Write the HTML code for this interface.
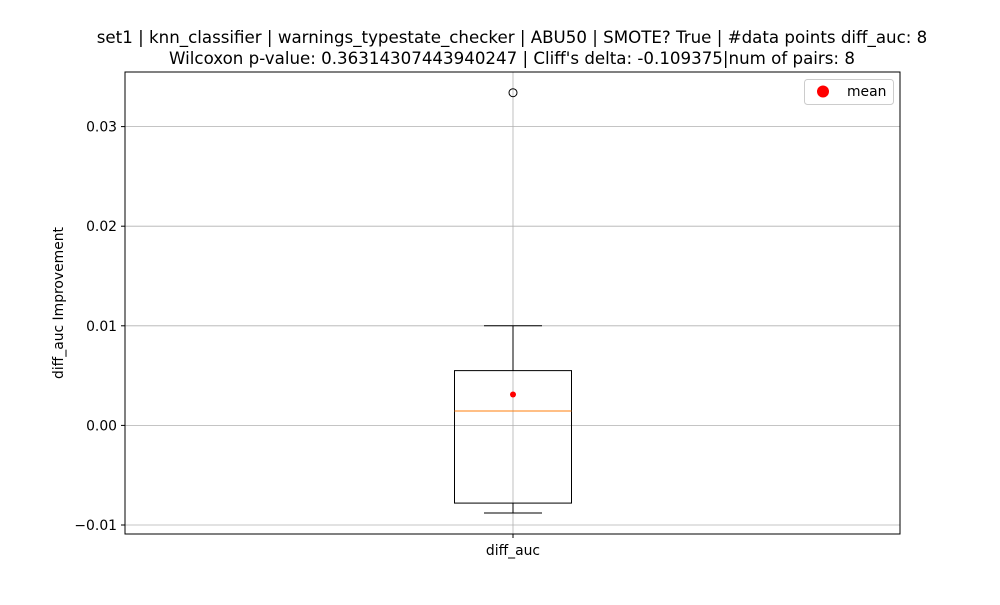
<!DOCTYPE html>
<html><head><meta charset="utf-8"><style>body{margin:0;background:#fff}svg{font-family:"DejaVu Sans","Liberation Sans",sans-serif}</style></head>
<body>
<svg id="chart" width="1000" height="600">
<rect width="1000" height="600" fill="#fff"/>
<text x="512" y="43" text-anchor="middle" font-size="16.67">set1 | knn_classifier | warnings_typestate_checker | ABU50 | SMOTE? True | #data points diff_auc: 8</text>
<text x="512" y="64" text-anchor="middle" font-size="16.67">Wilcoxon p-value: 0.36314307443940247 | Cliff's delta: -0.109375|num of pairs: 8</text>
<g id="grid"></g>
<g id="marks"></g>
<rect x="125" y="72" width="775" height="462" fill="none" stroke="#000" stroke-width="1"/>
<text transform="translate(63,303) rotate(-90)" text-anchor="middle" font-size="13.9">diff_auc Improvement</text>
<g>
<rect x="804.5" y="79.5" width="89" height="25" rx="3" fill="#fff" stroke="#ccc"/>
<circle cx="823" cy="91.5" r="6" fill="red"/>
<text x="847" y="96" font-size="13.9">mean</text>
</g>
</svg>
<script>
const categories=["diff_auc"];
const q1=[-0.0078], q3=[0.0055], median=[0.00145], whiskerLow=[-0.0088], whiskerHigh=[0.01];
const outliers=[[0.0334]];
const means=[0.0031];
const yTicks=[-0.01,0,0.01,0.02,0.03];
const yTickLabels=["−0.01","0.00","0.01","0.02","0.03"];
const NS="http://www.w3.org/2000/svg";
const y0=425.4, ppu=9960;
function y(v){return y0-v*ppu;}
function x(i){return 513;}
function mk(t,a,p){const e=document.createElementNS(NS,t);for(const k in a)e.setAttribute(k,a[k]);p.appendChild(e);return e;}
const grid=document.getElementById('grid'), marks=document.getElementById('marks'), svg=document.getElementById('chart');
yTicks.forEach((t,i)=>{
 const l=mk('line',{x1:125,x2:900,y1:y(t),y2:y(t),stroke:'#b0b0b0','stroke-width':0.8},grid);
 
 
 mk('line',{x1:121,x2:125,y1:y(t),y2:y(t),stroke:'#000'},svg);
 const tx=mk('text',{x:117,y:y(t)+5,'text-anchor':'end','font-size':13.9},svg);tx.textContent=yTickLabels[i];
 
 
});
categories.forEach((c,i)=>{
 const cx=x(i);
 const g=mk('line',{x1:cx,x2:cx,y1:72,y2:534,stroke:'#b0b0b0','stroke-width':0.8},grid);
 
 
 mk('line',{x1:cx,x2:cx,y1:534,y2:538,stroke:'#000'},svg);
 const tl=mk('text',{x:cx,y:555,'text-anchor':'middle','font-size':13.9},svg);tl.textContent=c;
 
 
 const b=mk('rect',{x:cx-58.5,y:y(q3[i]),width:117,height:y(q1[i])-y(q3[i]),fill:'none',stroke:'#000'},marks);
 
 
 mk('line',{x1:cx,x2:cx,y1:y(q3[i]),y2:y(whiskerHigh[i]),stroke:'#000'},marks);
 mk('line',{x1:cx,x2:cx,y1:y(q1[i]),y2:y(whiskerLow[i]),stroke:'#000'},marks);
 const c1=mk('line',{x1:cx-29,x2:cx+29,y1:y(whiskerHigh[i]),y2:y(whiskerHigh[i]),stroke:'#000'},marks);
 
 
 const c2=mk('line',{x1:cx-29,x2:cx+29,y1:y(whiskerLow[i]),y2:y(whiskerLow[i]),stroke:'#000'},marks);
 
 
 const m=mk('line',{x1:cx-58.5,x2:cx+58.5,y1:y(median[i]),y2:y(median[i]),stroke:'#ff7f0e'},marks);
 
 
 outliers[i].forEach(o=>{const f=mk('circle',{cx:cx,cy:y(o),r:4,fill:'none',stroke:'#000'},marks);
  
  });
 const mn=mk('circle',{cx:cx,cy:y(means[i]),r:3,fill:'red'},marks);
 
 
});
</script>
</body></html>
